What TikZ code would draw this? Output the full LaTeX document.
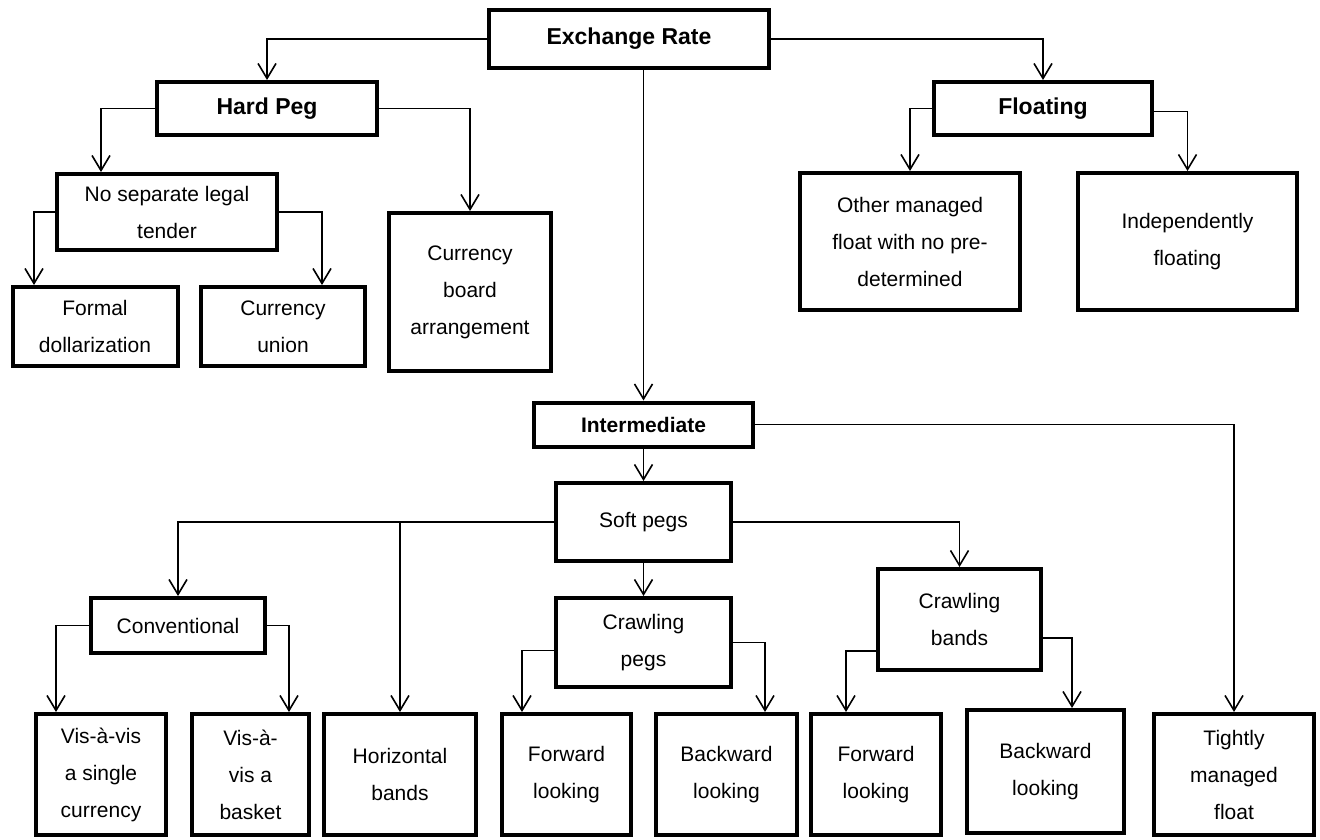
\documentclass[tikz,border=0pt]{standalone}
\usepackage{fontspec}
\setmainfont{Liberation Sans}
\usetikzlibrary{arrows.meta}

\tikzset{
    box/.style={draw, line width=4pt, inner sep=0pt, align=center,
        font=\fontsize{21}{37}\selectfont},
    hdr/.style={box, font=\bfseries\fontsize{23}{37}\selectfont},
    conn/.style={line width=1.6pt, -{Straight Barb[length=15pt,width=18pt]}}
}

\begin{document}
\begin{tikzpicture}[x=1pt, y=-1pt]
        \useasboundingbox (0,0) rectangle (1320,839);

        % top levels
        \node[hdr, minimum width=280pt, minimum height=58pt] (exch) at (629, 39) {Exchange Rate};
        \node[hdr, minimum width=220pt, minimum height=53pt] (hard) at (267, 108.5) {Hard Peg};
        \node[hdr, minimum width=218pt, minimum height=53pt] (float) at (1043, 108.5) {Floating};

        \node[box, minimum width=220pt, minimum height=76pt] (nosep) at (167, 212) {No separate legal\\tender};
        \node[box, minimum width=162pt, minimum height=158pt] (board) at (470, 292) {Currency\\board\\arrangement};
        \node[box, minimum width=165pt, minimum height=79pt] (formal) at (95, 326.5) {Formal\\dollarization};
        \node[box, minimum width=164pt, minimum height=79pt] (union) at (283, 326.5) {Currency\\union};
        \node[box, minimum width=220pt, minimum height=137pt] (other) at (910, 241.5) {Other managed\\float with no pre-\\determined};
        \node[box, minimum width=219pt, minimum height=137pt] (indep) at (1187.5, 241.5) {Independently\\floating};

        % intermediate
        \node[hdr, font=\bfseries\fontsize{21}{37}\selectfont, minimum width=219pt, minimum height=44pt] (inter) at (643.5, 424.5) {Intermediate};
        \node[box, minimum width=175pt, minimum height=78pt] (soft) at (643.5, 522) {Soft pegs};
        \node[box, minimum width=175pt, minimum height=89pt] (crpeg) at (643.5, 642.5) {Crawling\\pegs};
        \node[box, minimum width=163pt, minimum height=101pt] (crband) at (959.5, 619.5) {Crawling\\bands};
        \node[box, minimum width=174pt, minimum height=55pt] (conv) at (178, 625.5) {Conventional};

        % bottom row
        \node[box, minimum width=130pt, minimum height=121pt] (vis1) at (101, 774.5) {Vis-à-vis\\a single\\currency};
        \node[box, minimum width=117pt, minimum height=121pt] (vis2) at (250.5, 774.5) {Vis-à-\\vis a\\basket};
        \node[box, minimum width=152pt, minimum height=121pt] (horiz) at (400, 774.5) {Horizontal\\bands};
        \node[box, minimum width=129pt, minimum height=121pt] (fwd1) at (566.5, 774.5) {Forward\\looking};
        \node[box, minimum width=141pt, minimum height=121pt] (bwd1) at (726.5, 774.5) {Backward\\looking};
        \node[box, minimum width=130pt, minimum height=121pt] (fwd2) at (876, 774.5) {Forward\\looking};
        \node[box, minimum width=157pt, minimum height=123pt] (bwd2) at (1045.5, 771.5) {Backward\\looking};
        \node[box, minimum width=160pt, minimum height=121pt] (tight) at (1234, 774.5) {Tightly\\managed\\float};

        \draw[conn] (exch.west) -| (hard.north);
        \draw[conn] (exch.east) -| (float.north);
        \draw[conn] (inter.north |- exch.south) -- (inter.north);
        \draw[conn] (hard.west) -| ([xshift=-66pt]nosep.north);
        \draw[conn] (hard.east) -| (board.north);
        \draw[conn] (nosep.west) -| ([xshift=-61pt]formal.north);
        \draw[conn] (nosep.east) -| ([xshift=39pt]union.north);
        \draw[conn] (float.west) -| (other.north);
        \draw[conn] ([yshift=-3pt]float.east) -| (indep.north);

        \draw[conn] (inter.east) -| (tight.north);
        \draw[conn] (inter.south) -- (soft.north);
        \draw[conn] (soft.west) -| (conv.north);
        \draw[conn] (horiz.north |- soft.west) -- (horiz.north);
        \draw[conn] (soft.east) -| (crband.north);
        \draw[conn] (soft.south) -- (crpeg.north);
        \draw[conn] (conv.west) -| ([xshift=-45pt]vis1.north);
        \draw[conn] (conv.east) -| ([xshift=38.5pt]vis2.north);
        \draw[conn] ([yshift=-8pt]crpeg.west) -| ([xshift=-44.5pt]fwd1.north);
        \draw[conn] (crpeg.east) -| ([xshift=38.5pt]bwd1.north);
        \draw[conn] ([yshift=-31.5pt]crband.west) -| ([xshift=-30pt]fwd2.north);
        \draw[conn] ([yshift=-18.5pt]crband.east) -| ([xshift=26.5pt]bwd2.north);
    \end{tikzpicture}
\end{document}
